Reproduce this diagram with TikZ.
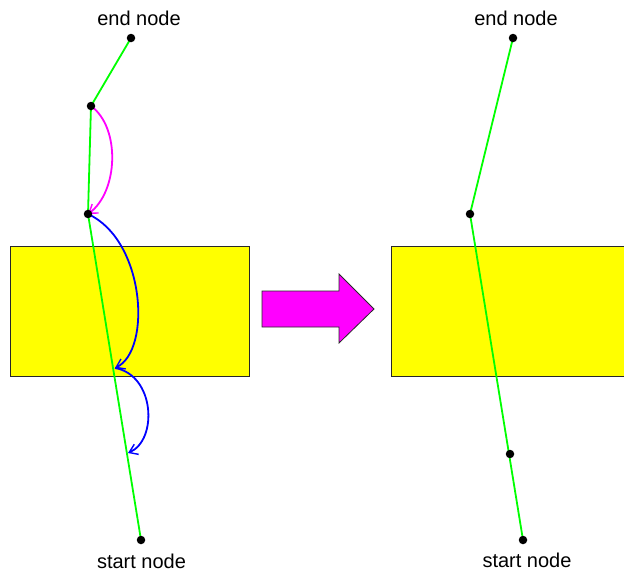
\documentclass[tikz,border=0pt]{standalone}
\usepackage{fontspec}
\setmainfont{Liberation Sans}
\usetikzlibrary{arrows.meta}
\definecolor{pathgreen}{RGB}{0,255,0}
\definecolor{arcblue}{RGB}{0,0,255}
\definecolor{arcmagenta}{RGB}{255,0,255}
\definecolor{boxyellow}{RGB}{255,255,0}
\definecolor{edgegrey}{RGB}{40,40,40}
\begin{document}
\begin{tikzpicture}[x=1pt,y=-1pt,
  dot/.style={circle,fill=black,inner sep=0pt,minimum size=8.5pt},
  caption/.style={font=\fontsize{20}{24}\selectfont,anchor=base,inner sep=0pt},
  pathline/.style={draw=pathgreen,line width=1.8pt},
  arcline/.style={line width=1.8pt,-{Straight Barb[length=8pt,width=11pt,line width=1.4pt]}},
  region/.style={fill=boxyellow,draw=edgegrey,line width=1.1pt}]
  \clip (0,0) rectangle (624,574);
  \fill[white] (0,0) rectangle (624,574);

  % obstacle regions
  \path[region] (10.5,246.5) rectangle (249.5,376.5);
  \path[region] (391.5,246.5) rectangle (640,376.5);

  % transformation arrow
  \path[fill=arcmagenta,draw=edgegrey,line width=0.8pt]
    (262,291) -- (339,291) -- (339,274) -- (374,309) -- (339,343) -- (339,327) -- (262,327) -- cycle;

  % ---- left: path before smoothing ----
  \coordinate (Le) at (131,38);
  \coordinate (La) at (91,106);
  \coordinate (Lb) at (88,214);
  \coordinate (Lc) at (115,368);
  \coordinate (Ld) at (128,453);
  \coordinate (Ls) at (141,540);
  \draw[pathline] (Le) -- (La) -- (Lb) -- (Ls);

  \draw[arcline,draw=arcmagenta] (La) .. controls (121,128) and (118,192) .. (Lb);
  \draw[arcline,draw=arcblue] (Lb) .. controls (145,240) and (152,350) .. (Lc);
  \draw[arcline,draw=arcblue] (Lc) .. controls (155,375) and (158,440) .. (Ld);

  \node[dot] at (Le) {};
  \node[dot] at (La) {};
  \node[dot] at (Lb) {};
  \node[dot] at (Ls) {};
  \node[caption] (Lend) at (139,25) {end node};
  \node[caption] (Lstart) at (141.5,568) {start node};

  % ---- right: path after smoothing ----
  \coordinate (Re) at (513,38);
  \coordinate (Ra) at (470,214);
  \coordinate (Rb) at (510,454);
  \coordinate (Rs) at (523,540);
  \draw[pathline] (Re) -- (Ra) -- (Rs);
  \node[dot] at (Re) {};
  \node[dot] at (Ra) {};
  \node[dot] at (Rb) {};
  \node[dot] at (Rs) {};
  \node[caption] (Rend) at (516,25) {end node};
  \node[caption] (Rstart) at (527,567) {start node};
\end{tikzpicture}
\end{document}
